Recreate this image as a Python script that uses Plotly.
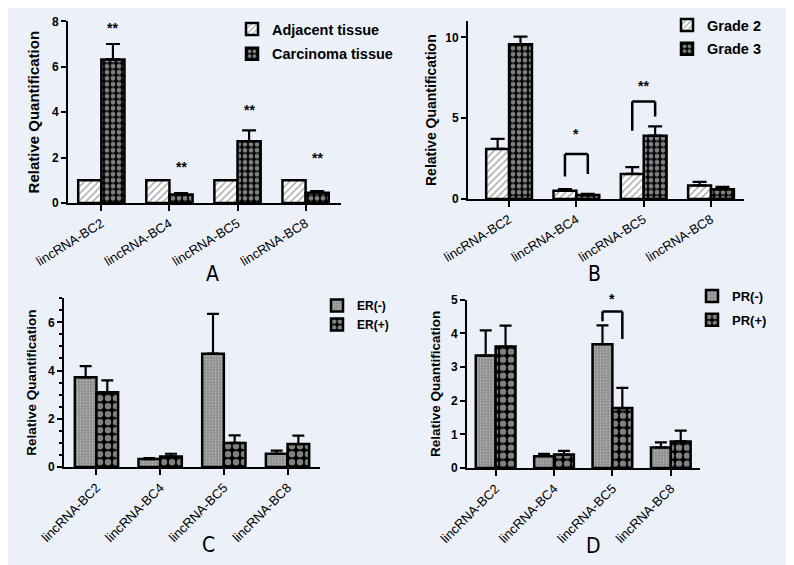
import plotly.graph_objects as go

W, H = 794, 565

genes = ["lincRNA-BC2", "lincRNA-BC4", "lincRNA-BC5", "lincRNA-BC8"]

# Panel A
adjacent = [1.0, 1.0, 1.0, 1.0]
carcinoma = [6.32, 0.37, 2.72, 0.45]
carcinoma_err = [0.68, 0.07, 0.48, 0.07]
sig_A = ["**", "**", "**", "**"]
sig_A_y = [7.55, 1.4, 3.9, 1.8]

# Panel B
grade2 = [3.10, 0.51, 1.55, 0.84]
grade2_err = [0.62, 0.10, 0.42, 0.22]
grade3 = [9.58, 0.24, 3.92, 0.60]
grade3_err = [0.47, 0.08, 0.57, 0.15]
bracket_B_gene = [1, 2]
bracket_B_legs = [[1.40, 2.78, 1.55], [4.22, 6.04, 5.11]]
sig_B = ["*", "**"]
sig_B_y = [3.77, 6.76]

# Panel C
er_neg = [3.72, 0.33, 4.70, 0.55]
er_neg_err = [0.46, 0.04, 1.65, 0.13]
er_pos = [3.10, 0.44, 1.00, 0.95]
er_pos_err = [0.49, 0.11, 0.31, 0.35]

# Panel D
pr_neg = [3.34, 0.35, 3.68, 0.61]
pr_neg_err = [0.75, 0.07, 0.56, 0.15]
pr_pos = [3.61, 0.40, 1.78, 0.79]
pr_pos_err = [0.62, 0.11, 0.60, 0.32]
bracket_D_gene = [2]
bracket_D_legs = [[4.36, 4.65, 3.83]]
sig_D = ["*"]
sig_D_y = [4.9]

BARGAP = 0.32
HALF = (1 - BARGAP) / 4  # offset of each bar centre from the group centre

FONT = "Liberation Sans"
BG = "#ECF1F9"

hatch = dict(shape="/", fgcolor="#555555", bgcolor="white", size=5, solidity=0.3)
checker = dict(shape=".", fgcolor="white", bgcolor="black", size=6, solidity=0.5)
fine = dict(shape=".", fgcolor="#e0e0e0", bgcolor="#8a8a8a", size=3, solidity=0.35)
coarse = dict(shape=".", fgcolor="white", bgcolor="black", size=8, solidity=0.52)


def bar(name, y, err, pattern, xa, ya, legend, errw=7):
    tr = dict(
        type="bar", name=name, x=genes, y=y, xaxis=xa, yaxis=ya,
        legend=legend, legendgroup=legend + name,
        marker=dict(color="white", pattern=pattern,
                    line=dict(color="black", width=2.5)),
    )
    if err is not None:
        tr["error_y"] = dict(type="data", symmetric=False, array=err,
                             arrayminus=[0] * len(err), color="black",
                             thickness=2.2, width=errw)
    return go.Bar(**tr)


fig = go.Figure()
fig.add_trace(bar("Adjacent tissue", adjacent, None, hatch, "x", "y", "legend"))
fig.add_trace(bar("Carcinoma tissue", carcinoma, carcinoma_err, checker, "x", "y", "legend"))
fig.add_trace(bar("Grade 2", grade2, grade2_err, hatch, "x2", "y2", "legend2"))
fig.add_trace(bar("Grade 3", grade3, grade3_err, checker, "x2", "y2", "legend2"))
fig.add_trace(bar("ER(-)", er_neg, er_neg_err, fine, "x3", "y3", "legend3", 6))
fig.add_trace(bar("ER(+)", er_pos, er_pos_err, coarse, "x3", "y3", "legend3", 6))
fig.add_trace(bar("PR(-)", pr_neg, pr_neg_err, fine, "x4", "y4", "legend4", 6))
fig.add_trace(bar("PR(+)", pr_pos, pr_pos_err, coarse, "x4", "y4", "legend4", 6))


def px_x(v):
    return v / W


def px_y(v):
    return 1 - v / H


def xax(d0, d1, rng, anchor, angle):
    return dict(
        domain=[px_x(d0), px_x(d1)], range=rng, anchor=anchor,
        type="category", showline=True, linecolor="black", linewidth=2,
        ticks="outside", ticklen=6, tickwidth=2, tickcolor="black",
        showgrid=False, zeroline=False, tickangle=angle,
        tickfont=dict(family=FONT, size=13, color="black"),
        automargin=False, fixedrange=True,
    )


def yax(d0, d1, rng, anchor, dtick, tsize, standoff, minor=None):
    a = dict(
        domain=[px_y(d0), px_y(d1)], range=rng, anchor=anchor,
        showline=True, linecolor="black", linewidth=2,
        ticks="outside", ticklen=5, tickwidth=2, tickcolor="black",
        showgrid=False, zeroline=False, dtick=dtick, tick0=0,
        tickfont=dict(family=FONT, size=12, color="black", weight="bold"),
        title=dict(text="Relative Quantification", standoff=standoff,
                   font=dict(family=FONT, size=tsize, color="black", weight="bold")),
        automargin=False, fixedrange=True,
    )
    if minor:
        a["minor"] = minor
    return a


fig.update_layout(
    width=W, height=H, margin=dict(l=0, r=0, t=0, b=0),
    paper_bgcolor=BG, plot_bgcolor=BG,
    barmode="group", bargap=BARGAP, bargroupgap=0,
    font=dict(family=FONT, color="black"),
    xaxis=xax(60, 333, [-0.49, 3.52], "y", -32),
    yaxis=yax(195, 13.3, [0, 8], "x", 2, 15, 9),
    xaxis2=xax(460, 736, [-0.61, 3.49], "y2", -32),
    yaxis2=yax(191, 13.3, [0, 11], "x2", 5, 14, 5),
    xaxis3=xax(56, 312, [-0.51, 3.51], "y3", -45),
    yaxis3=yax(459, 290.2, [0, 7], "x3", 2, 13.5, 8,
               minor=dict(dtick=0.5, ticks="outside", ticklen=3, tickwidth=1.5,
                          tickcolor="black", showgrid=False)),
    xaxis4=xax(459, 692, [-0.49, 3.5], "y4", -45),
    yaxis4=yax(460, 291.7, [0, 5], "x4", 1, 13.5, 7),
    showlegend=True,
)

leg_common = dict(bgcolor="rgba(0,0,0,0)", borderwidth=0,
                  xanchor="left", yanchor="top")
fig.update_layout(
    legend=dict(x=px_x(224), y=px_y(5), traceorder="grouped", tracegroupgap=3,
                font=dict(family=FONT, size=14.5, weight="bold"), **leg_common),
    legend2=dict(x=px_x(659), y=px_y(1), traceorder="grouped", tracegroupgap=2,
                 font=dict(family=FONT, size=14.5, weight="bold"), **leg_common),
    legend3=dict(x=px_x(309), y=px_y(283), traceorder="normal",
                 font=dict(family=FONT, size=12, weight="bold"), **leg_common),
    legend4=dict(x=px_x(684), y=px_y(273), traceorder="grouped", tracegroupgap=4,
                 font=dict(family=FONT, size=13, weight="bold"), **leg_common),
)

annotations = []
shapes = []

star_font = dict(family=FONT, size=14, color="black", weight="bold")
for i, (s, yy) in enumerate(zip(sig_A, sig_A_y)):
    annotations.append(dict(x=i + HALF, y=yy, xref="x", yref="y", text=s,
                            showarrow=False, font=star_font, yshift=4))


def bracket(g, legs, xr, yr):
    xl, xr_ = g - HALF, g + HALF
    ln = dict(color="black", width=2.5)
    return [
        dict(type="line", xref=xr, yref=yr, x0=xl, x1=xl, y0=legs[0], y1=legs[1], line=ln),
        dict(type="line", xref=xr, yref=yr, x0=xl, x1=xr_, y0=legs[1], y1=legs[1], line=ln),
        dict(type="line", xref=xr, yref=yr, x0=xr_, x1=xr_, y0=legs[1], y1=legs[2], line=ln),
    ]


for g, legs, s, yy in zip(bracket_B_gene, bracket_B_legs, sig_B, sig_B_y):
    shapes += bracket(g, legs, "x2", "y2")
    annotations.append(dict(x=g, y=yy, xref="x2", yref="y2", text=s,
                            showarrow=False, font=star_font, yshift=4))
for g, legs, s, yy in zip(bracket_D_gene, bracket_D_legs, sig_D, sig_D_y):
    shapes += bracket(g, legs, "x4", "y4")
    annotations.append(dict(x=g, y=yy, xref="x4", yref="y4", text=s,
                            showarrow=False, font=star_font, yshift=4))

panel_font = dict(family="Liberation Sans Narrow, DejaVu Sans Condensed, Liberation Sans",
                  size=21, color="black")
for lab, xx, yy in [("A", 205, 266), ("B", 586, 266), ("C", 200, 537), ("D", 585, 538)]:
    annotations.append(dict(x=px_x(xx), y=px_y(yy), xref="paper", yref="paper",
                            text=lab, showarrow=False, font=panel_font,
                            xanchor="center", yanchor="middle"))

shapes.append(dict(type="line", xref="paper", yref="paper", x0=px_x(789.5),
                   x1=px_x(789.5), y0=0, y1=1, line=dict(color="#a0a4aa", width=1)))

fig.update_layout(annotations=annotations, shapes=shapes)

fig.write_html("out.html")
